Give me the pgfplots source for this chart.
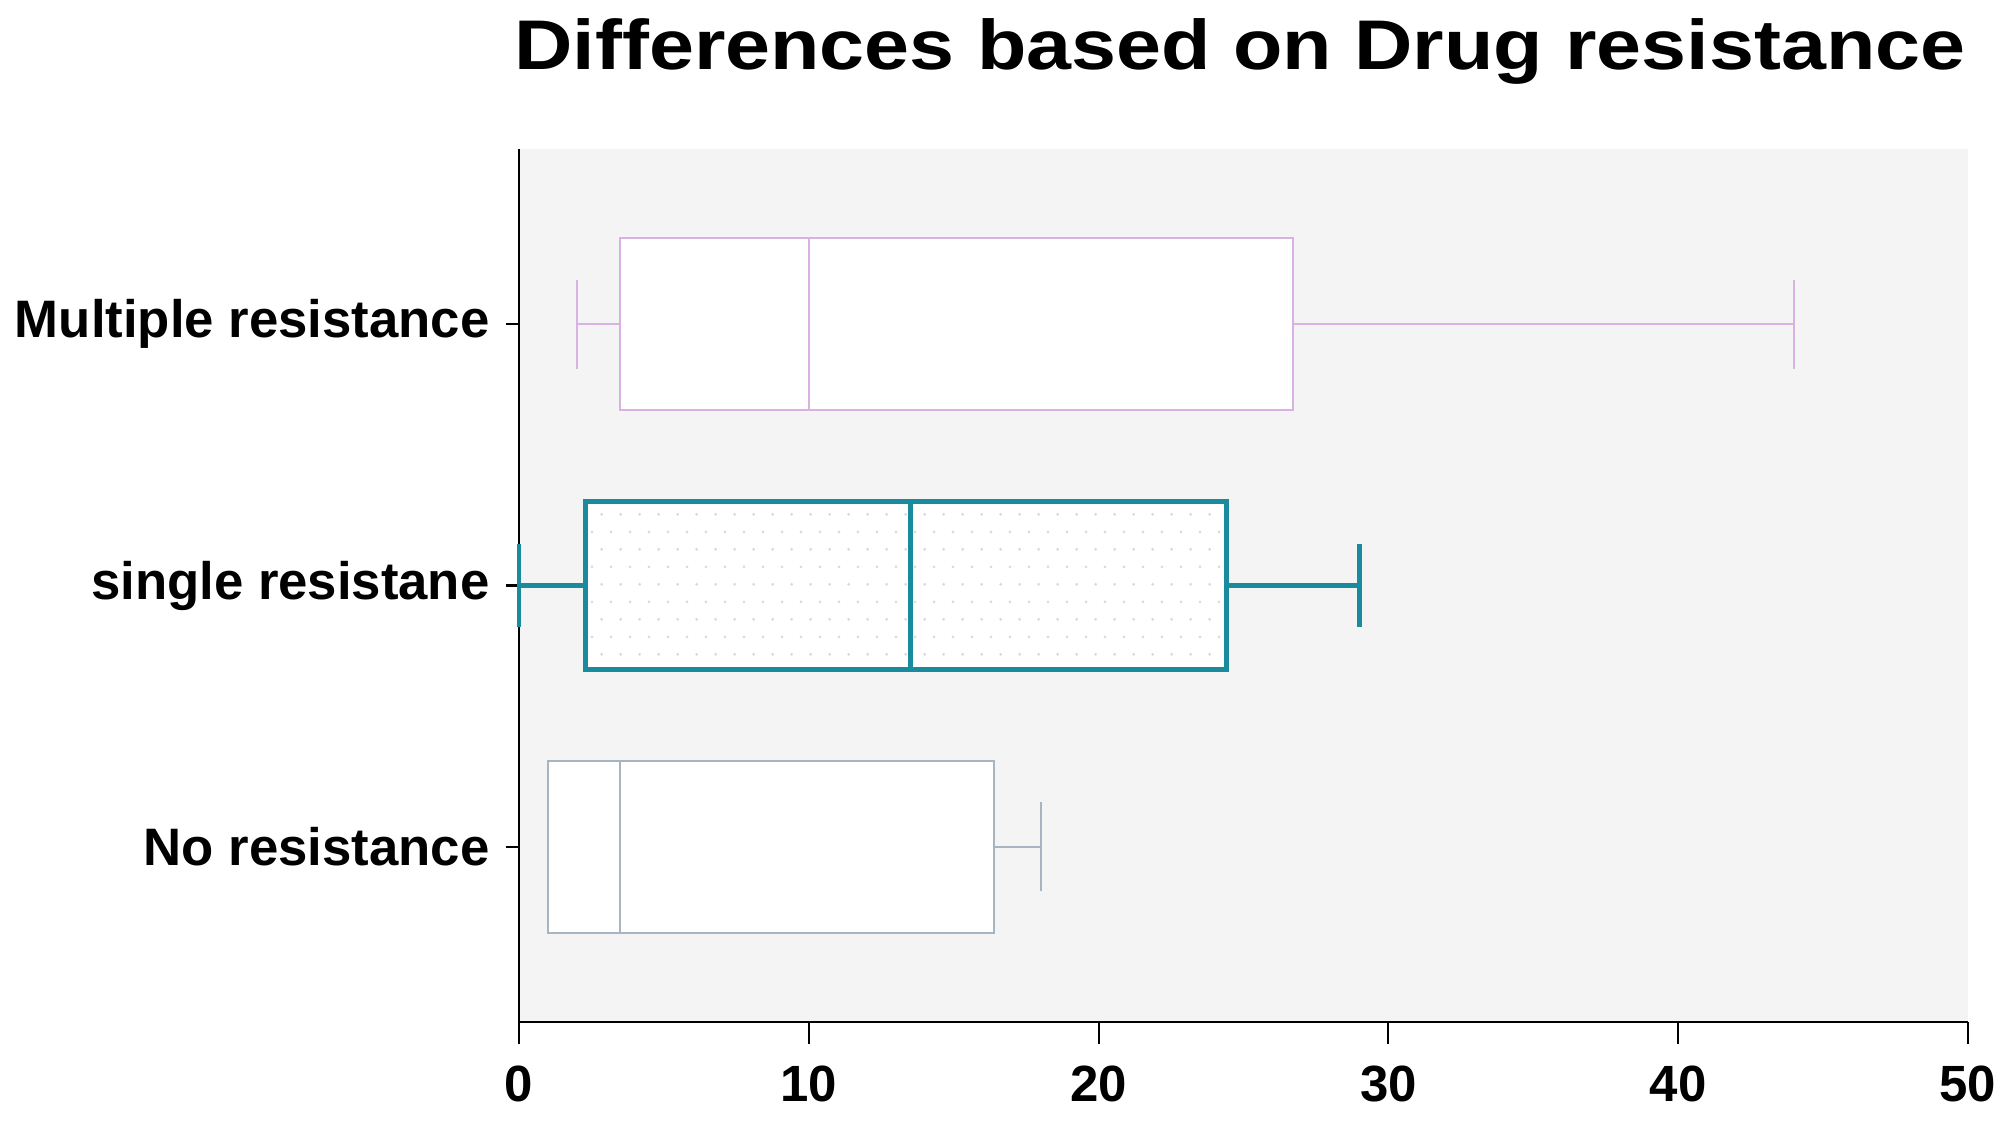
\documentclass[border=0pt]{standalone}
\usepackage{pgfplots}
\pgfplotsset{compat=1.18}
\usepgfplotslibrary{statistics}
\usetikzlibrary{patterns.meta}
\usepackage{fontspec}
\setmainfont{Liberation Sans}

\definecolor{pinkc}{HTML}{D9B1E2}
\definecolor{grayc}{HTML}{A7B5C3}
\definecolor{tealc}{HTML}{1A8B9D}
\definecolor{bgc}{HTML}{F4F4F5}
\definecolor{dotc}{HTML}{DADADA}

\tikzdeclarepattern{
  name=stagdots,
  type=uncolored,
  bottom left={(0,0)},
  top right={(0.193cm,0.354cm)},
  tile size={(0.193cm,0.354cm)},
  code={
    \fill (0.048cm,0.088cm) circle (0.45pt);
    \fill (0.145cm,0.265cm) circle (0.45pt);
  }
}

\begin{document}
\begin{tikzpicture}
\begin{axis}[
    scale only axis,
    width=14.49cm,
    height=8.73cm,
    xmin=0, xmax=50,
    ymin=0.33, ymax=3.67,
    xtick={0,10,20,30,40,50},
    ytick={1,2,3},
    yticklabels={No resistance,single resistane,Multiple resistance},
    axis lines*=left,
    axis line style={black, line width=0.6pt},
    axis background/.style={fill=bgc},
    tick align=outside,
    tick style={black, line width=0.6pt},
    xtick style={/pgfplots/major tick length=0.22cm},
    ytick style={/pgfplots/major tick length=0.13cm},
    /pgf/number format/assume math mode=true,
    xticklabel style={font=\fontsize{14.5}{17}\selectfont\bfseries, yshift=-0.16cm},
    yticklabel style={font=\fontsize{15}{18}\selectfont\bfseries, xshift=-0.02cm},
    boxplot/draw direction=x,
    clip=false,
    ]
    % No resistance
    \addplot+[draw=grayc, line width=0.55pt, fill=white, mark=none,
      boxplot prepared={
        lower whisker=1.0, lower quartile=1.0, median=3.5,
        upper quartile=16.4, upper whisker=18.0,
        draw position=1, box extend=0.66, whisker extend=0.34}]
      coordinates {};
    % single resistance
    \addplot+[draw=tealc, line width=1.4pt, mark=none, fill=white,
      boxplot/every box/.style={fill=white,
        postaction={pattern={stagdots}, pattern color=dotc}},
      boxplot prepared={
        lower whisker=0, lower quartile=2.3, median=13.5,
        upper quartile=24.4, upper whisker=29.0,
        draw position=2, box extend=0.64, whisker extend=0.32}]
      coordinates {};
    % Multiple resistance
    \addplot+[draw=pinkc, line width=0.55pt, fill=white, mark=none,
      boxplot prepared={
        lower whisker=2.0, lower quartile=3.5, median=10.0,
        upper quartile=26.7, upper whisker=44.0,
        draw position=3, box extend=0.66, whisker extend=0.34}]
      coordinates {};
\end{axis}
\node[anchor=base, font=\fontsize{20}{24}\selectfont\bfseries]
  at (7.21cm,9.52cm) {\scalebox{1.15}[1]{Differences based on Drug resistance}};
\pgfresetboundingbox
\path (-5.19cm,-1.00cm) rectangle (14.81cm,10.22cm);
\end{tikzpicture}
\end{document}
